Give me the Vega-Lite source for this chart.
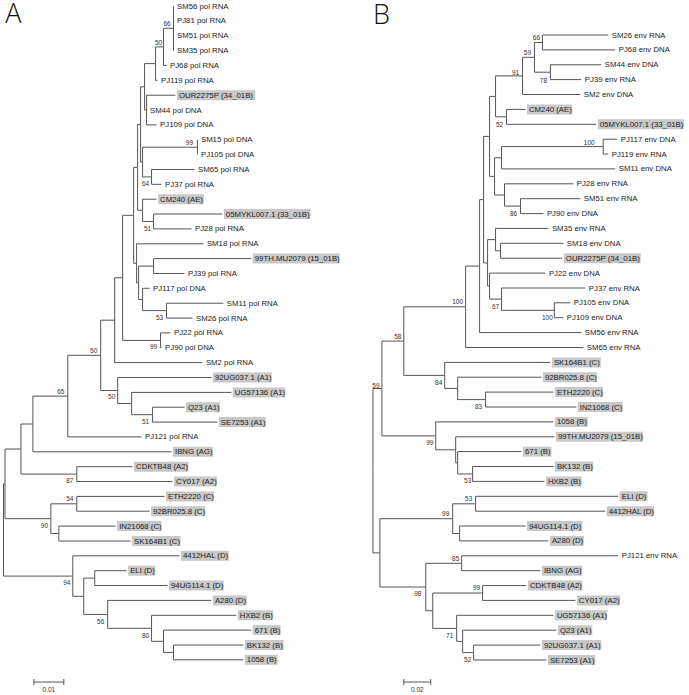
{
"$schema": "https://vega.github.io/schema/vega-lite/v6.json",
"width": 689, "height": 695,
"autosize": {"type": "fit", "contains": "padding"},
"padding": 0,
"background": "white",
"config": {"view": {"stroke": null}},
"datasets": {
"edges": [
{"px":174,"py":28.3,"cx":174,"cy":6.0},{"px":174,"py":28.3,"cx":174,"cy":20.9},{"px":174,"py":28.3,"cx":174,"cy":35.7},{"px":174,"py":28.3,"cx":174,"cy":50.6},
{"px":164,"py":46.9,"cx":174,"cy":28.3},{"px":164,"py":46.9,"cx":167,"cy":65.4},
{"px":156,"py":63.6,"cx":164,"cy":46.9},{"px":156,"py":63.6,"cx":158,"cy":80.3},
{"px":147,"py":110,"cx":176,"cy":95.2},{"px":147,"py":110,"cx":147,"cy":110},{"px":147,"py":110,"cx":157,"cy":124.9},
{"px":145,"py":86.8,"cx":156,"cy":63.6},{"px":145,"py":86.8,"cx":147,"cy":110},
{"px":198,"py":147.2,"cx":198,"cy":139.7},{"px":198,"py":147.2,"cx":198,"cy":154.6},
{"px":152,"py":176.9,"cx":195,"cy":169.5},{"px":152,"py":176.9,"cx":162,"cy":184.3},
{"px":143,"py":162,"cx":198,"cy":147.2},{"px":143,"py":162,"cx":152,"cy":176.9},
{"px":154,"py":221.5,"cx":223,"cy":214},{"px":154,"py":221.5,"cx":192,"cy":228.9},
{"px":143,"py":210.3,"cx":157,"cy":199.2},{"px":143,"py":210.3,"cx":154,"cy":221.5},
{"px":141,"py":124.4,"cx":145,"cy":86.8},{"px":141,"py":124.4,"cx":143,"cy":162},
{"px":138,"py":167.4,"cx":141,"cy":124.4},{"px":138,"py":167.4,"cx":143,"cy":210.3},
{"px":154,"py":266.1,"cx":252,"cy":258.6},{"px":154,"py":266.1,"cx":185,"cy":273.5},
{"px":167,"py":310.6,"cx":224,"cy":303.2},{"px":167,"py":310.6,"cx":193,"cy":318.1},
{"px":143,"py":299.5,"cx":150,"cy":288.3},{"px":143,"py":299.5,"cx":167,"cy":310.6},
{"px":139,"py":282.8,"cx":154,"cy":266.1},{"px":139,"py":282.8,"cx":143,"cy":299.5},
{"px":137,"py":263.3,"cx":204,"cy":243.8},{"px":137,"py":263.3,"cx":139,"cy":282.8},
{"px":134,"py":215.3,"cx":138,"cy":167.4},{"px":134,"py":215.3,"cx":137,"cy":263.3},
{"px":161,"py":340.4,"cx":171,"cy":332.9},{"px":161,"py":340.4,"cx":162,"cy":347.8},
{"px":123,"py":277.8,"cx":134,"cy":215.3},{"px":123,"py":277.8,"cx":161,"cy":340.4},
{"px":115,"py":320.2,"cx":123,"cy":277.8},{"px":115,"py":320.2,"cx":203,"cy":362.6},
{"px":153,"py":414.7,"cx":185,"cy":407.2},{"px":153,"py":414.7,"cx":218,"cy":422.1},
{"px":132,"py":403.5,"cx":232,"cy":392.4},{"px":132,"py":403.5,"cx":153,"cy":414.7},
{"px":118,"py":390.5,"cx":212,"cy":377.5},{"px":118,"py":390.5,"cx":132,"cy":403.5},
{"px":101,"py":355.3,"cx":115,"cy":320.2},{"px":101,"py":355.3,"cx":118,"cy":390.5},
{"px":68,"py":396.1,"cx":101,"cy":355.3},{"px":68,"py":396.1,"cx":142,"cy":436.9},
{"px":33,"py":424,"cx":68,"cy":396.1},{"px":33,"py":424,"cx":172,"cy":451.8},
{"px":77,"py":474.1,"cx":133,"cy":466.7},{"px":77,"py":474.1,"cx":173,"cy":481.5},
{"px":21,"py":449,"cx":33,"cy":424},{"px":21,"py":449,"cx":77,"cy":474.1},
{"px":77,"py":503.8,"cx":165,"cy":496.4},{"px":77,"py":503.8,"cx":150,"cy":511.2},
{"px":59,"py":533.5,"cx":116,"cy":526.1},{"px":59,"py":533.5,"cx":131,"cy":541},
{"px":51,"py":518.7,"cx":77,"cy":503.8},{"px":51,"py":518.7,"cx":59,"cy":533.5},
{"px":5,"py":483.9,"cx":21,"cy":449},{"px":5,"py":483.9,"cx":51,"cy":518.7},
{"px":95,"py":578.1,"cx":127,"cy":570.7},{"px":95,"py":578.1,"cx":168,"cy":585.5},
{"px":174,"py":652.4,"cx":244,"cy":645},{"px":174,"py":652.4,"cx":244,"cy":659.8},
{"px":164,"py":641.3,"cx":252,"cy":630.1},{"px":164,"py":641.3,"cx":174,"cy":652.4},
{"px":152,"py":628.3,"cx":237,"cy":615.3},{"px":152,"py":628.3,"cx":164,"cy":641.3},
{"px":108,"py":614.4,"cx":212,"cy":600.4},{"px":108,"py":614.4,"cx":152,"cy":628.3},
{"px":84,"py":596.3,"cx":95,"cy":578.1},{"px":84,"py":596.3,"cx":108,"cy":614.4},
{"px":73,"py":576.1,"cx":180,"cy":555.8},{"px":73,"py":576.1,"cx":84,"cy":596.3},
{"px":3.5,"py":530,"cx":5,"cy":483.9},{"px":3.5,"py":530,"cx":73,"cy":576.1},
{"px":544,"py":42.5,"cx":610,"cy":35},{"px":544,"py":42.5,"cx":617,"cy":49.9},
{"px":552,"py":72.2,"cx":603,"cy":64.8},{"px":552,"py":72.2,"cx":583,"cy":79.6},
{"px":536,"py":57.3,"cx":544,"cy":42.5},{"px":536,"py":57.3,"cx":552,"cy":72.2},
{"px":524,"py":75.9,"cx":536,"cy":57.3},{"px":524,"py":75.9,"cx":582,"cy":94.5},
{"px":508,"py":116.8,"cx":527,"cy":109.4},{"px":508,"py":116.8,"cx":598,"cy":124.3},
{"px":497,"py":96.4,"cx":524,"cy":75.9},{"px":497,"py":96.4,"cx":508,"cy":116.8},
{"px":605,"py":146.6,"cx":619,"cy":139.2},{"px":605,"py":146.6,"cx":610,"cy":154},
{"px":503,"py":157.8,"cx":605,"cy":146.6},{"px":503,"py":157.8,"cx":617,"cy":168.9},
{"px":522,"py":206.1,"cx":582,"cy":198.7},{"px":522,"py":206.1,"cx":545,"cy":213.6},
{"px":506,"py":195,"cx":575,"cy":183.8},{"px":506,"py":195,"cx":522,"cy":206.1},
{"px":496,"py":176.4,"cx":503,"cy":157.8},{"px":496,"py":176.4,"cx":506,"cy":195},
{"px":491,"py":136.4,"cx":497,"cy":96.4},{"px":491,"py":136.4,"cx":496,"cy":176.4},
{"px":502,"py":250.8,"cx":565,"cy":243.3},{"px":502,"py":250.8,"cx":564,"cy":258.2},
{"px":497,"py":239.6,"cx":550,"cy":228.4},{"px":497,"py":239.6,"cx":502,"cy":250.8},
{"px":556,"py":310.3,"cx":572,"cy":302.8},{"px":556,"py":310.3,"cx":565,"cy":317.7},
{"px":503,"py":299.1,"cx":587,"cy":288},{"px":503,"py":299.1,"cx":556,"cy":310.3},
{"px":491,"py":286.1,"cx":547,"cy":273.1},{"px":491,"py":286.1,"cx":503,"cy":299.1},
{"px":489,"py":262.9,"cx":497,"cy":239.6},{"px":489,"py":262.9,"cx":491,"cy":286.1},
{"px":485,"py":199.6,"cx":491,"cy":136.4},{"px":485,"py":199.6,"cx":489,"cy":262.9},
{"px":481,"py":266.1,"cx":485,"cy":199.6},{"px":481,"py":266.1,"cx":583,"cy":332.6},
{"px":467,"py":306.8,"cx":481,"cy":266.1},{"px":467,"py":306.8,"cx":585,"cy":347.5},
{"px":487,"py":399.6,"cx":555,"cy":392.1},{"px":487,"py":399.6,"cx":578,"cy":407},
{"px":459,"py":388.4,"cx":543,"cy":377.2},{"px":459,"py":388.4,"cx":487,"cy":399.6},
{"px":446,"py":375.4,"cx":552,"cy":362.4},{"px":446,"py":375.4,"cx":459,"cy":388.4},
{"px":405,"py":341.1,"cx":467,"cy":306.8},{"px":405,"py":341.1,"cx":446,"cy":375.4},
{"px":474,"py":474,"cx":555,"cy":466.5},{"px":474,"py":474,"cx":546,"cy":481.4},
{"px":459,"py":462.8,"cx":523,"cy":451.6},{"px":459,"py":462.8,"cx":474,"cy":474},
{"px":457,"py":449.8,"cx":556,"cy":436.8},{"px":457,"py":449.8,"cx":459,"cy":462.8},
{"px":437,"py":435.9,"cx":555,"cy":421.9},{"px":437,"py":435.9,"cx":457,"cy":449.8},
{"px":383,"py":388.5,"cx":405,"cy":341.1},{"px":383,"py":388.5,"cx":437,"cy":435.9},
{"px":477,"py":503.8,"cx":620,"cy":496.3},{"px":477,"py":503.8,"cx":607,"cy":511.2},
{"px":461,"py":533.5,"cx":527,"cy":526},{"px":461,"py":533.5,"cx":550,"cy":540.9},
{"px":454,"py":518.7,"cx":477,"cy":503.8},{"px":454,"py":518.7,"cx":461,"cy":533.5},
{"px":463,"py":563.3,"cx":620,"cy":555.8},{"px":463,"py":563.3,"cx":542,"cy":570.7},
{"px":484,"py":593,"cx":528,"cy":585.6},{"px":484,"py":593,"cx":577,"cy":600.4},
{"px":475,"py":652.6,"cx":542,"cy":645.1},{"px":475,"py":652.6,"cx":548,"cy":660},
{"px":464,"py":641.4,"cx":558,"cy":630.2},{"px":464,"py":641.4,"cx":475,"cy":652.6},
{"px":458,"py":628.4,"cx":555,"cy":615.3},{"px":458,"py":628.4,"cx":464,"cy":641.4},
{"px":434,"py":610.7,"cx":484,"cy":593},{"px":434,"py":610.7,"cx":458,"cy":628.4},
{"px":427,"py":587,"cx":463,"cy":563.3},{"px":427,"py":587,"cx":434,"cy":610.7},
{"px":381,"py":552.9,"cx":454,"cy":518.7},{"px":381,"py":552.9,"cx":427,"cy":587},
{"px":374,"py":470.7,"cx":383,"cy":388.5},{"px":374,"py":470.7,"cx":381,"cy":552.9}
],
"leaves": [
{"x":174,"y":6.0,"t":"SM56 pol RNA","g":0},
{"x":174,"y":20.9,"t":"PJ81 pol RNA","g":0},
{"x":174,"y":35.7,"t":"SM51 pol RNA","g":0},
{"x":174,"y":50.6,"t":"SM35 pol RNA","g":0},
{"x":167,"y":65.4,"t":"PJ68 pol RNA","g":0},
{"x":158,"y":80.3,"t":"PJ119 pol RNA","g":0},
{"x":176,"y":95.2,"t":"OUR2275P (34_01B)","g":1,"bx2":256},
{"x":147,"y":110.0,"t":"SM44 pol DNA","g":0},
{"x":157,"y":124.9,"t":"PJ109 pol DNA","g":0},
{"x":198,"y":139.7,"t":"SM15 pol DNA","g":0},
{"x":198,"y":154.6,"t":"PJ105 pol DNA","g":0},
{"x":195,"y":169.5,"t":"SM65 pol RNA","g":0},
{"x":162,"y":184.3,"t":"PJ37 pol RNA","g":0},
{"x":157,"y":199.2,"t":"CM240 (AE)","g":1,"bx2":204.5},
{"x":223,"y":214.0,"t":"05MYKL007.1 (33_01B)","g":1,"bx2":311.5},
{"x":192,"y":228.9,"t":"PJ28 pol RNA","g":0},
{"x":204,"y":243.8,"t":"SM18 pol RNA","g":0},
{"x":252,"y":258.6,"t":"99TH.MU2079 (15_01B)","g":1,"bx2":340.5},
{"x":185,"y":273.5,"t":"PJ39 pol RNA","g":0},
{"x":150,"y":288.3,"t":"PJ117 pol DNA","g":0},
{"x":224,"y":303.2,"t":"SM11 pol RNA","g":0},
{"x":193,"y":318.1,"t":"SM26 pol RNA","g":0},
{"x":171,"y":332.9,"t":"PJ22 pol RNA","g":0},
{"x":162,"y":347.8,"t":"PJ90 pol DNA","g":0},
{"x":203,"y":362.6,"t":"SM2 pol RNA","g":0},
{"x":212,"y":377.5,"t":"92UG037.1 (A1)","g":1,"bx2":272.5},
{"x":232,"y":392.4,"t":"UG57136 (A1)","g":1,"bx2":286},
{"x":185,"y":407.2,"t":"Q23 (A1)","g":1,"bx2":220.5},
{"x":218,"y":422.1,"t":"SE7253 (A1)","g":1,"bx2":266.5},
{"x":142,"y":436.9,"t":"PJ121 pol RNA","g":0},
{"x":172,"y":451.8,"t":"IBNG (AG)","g":1,"bx2":213.5},
{"x":133,"y":466.7,"t":"CDKTB48 (A2)","g":1,"bx2":189},
{"x":173,"y":481.5,"t":"CY017 (A2)","g":1,"bx2":217.5},
{"x":165,"y":496.4,"t":"ETH2220 (C)","g":1,"bx2":214.5},
{"x":150,"y":511.2,"t":"92BR025.8 (C)","g":1,"bx2":206},
{"x":116,"y":526.1,"t":"IN21068 (C)","g":1,"bx2":162},
{"x":131,"y":541.0,"t":"SK164B1 (C)","g":1,"bx2":181},
{"x":180,"y":555.8,"t":"4412HAL (D)","g":1,"bx2":229.5},
{"x":127,"y":570.7,"t":"ELI (D)","g":1,"bx2":155.5},
{"x":168,"y":585.5,"t":"94UG114.1 (D)","g":1,"bx2":224.5},
{"x":212,"y":600.4,"t":"A280 (D)","g":1,"bx2":247.5},
{"x":237,"y":615.3,"t":"HXB2 (B)","g":1,"bx2":274},
{"x":252,"y":630.1,"t":"671 (B)","g":1,"bx2":281.5},
{"x":244,"y":645.0,"t":"BK132 (B)","g":1,"bx2":284.5},
{"x":244,"y":659.8,"t":"1058 (B)","g":1,"bx2":278.5},
{"x":610,"y":35.0,"t":"SM26 env RNA","g":0},
{"x":617,"y":49.9,"t":"PJ68 env DNA","g":0},
{"x":603,"y":64.8,"t":"SM44 env DNA","g":0},
{"x":583,"y":79.6,"t":"PJ39 env RNA","g":0},
{"x":582,"y":94.5,"t":"SM2 env DNA","g":0},
{"x":527,"y":109.4,"t":"CM240 (AE)","g":1,"bx2":574},
{"x":598,"y":124.3,"t":"05MYKL007.1 (33_01B)","g":1,"bx2":686},
{"x":619,"y":139.2,"t":"PJ117 env DNA","g":0},
{"x":610,"y":154.0,"t":"PJ119 env RNA","g":0},
{"x":617,"y":168.9,"t":"SM11 env DNA","g":0},
{"x":575,"y":183.8,"t":"PJ28 env RNA","g":0},
{"x":582,"y":198.7,"t":"SM51 env RNA","g":0},
{"x":545,"y":213.6,"t":"PJ90 env DNA","g":0},
{"x":550,"y":228.4,"t":"SM35 env RNA","g":0},
{"x":565,"y":243.3,"t":"SM18 env DNA","g":0},
{"x":564,"y":258.2,"t":"OUR2275P (34_01B)","g":1,"bx2":642.5},
{"x":547,"y":273.1,"t":"PJ22 env DNA","g":0},
{"x":587,"y":288.0,"t":"PJ37 env RNA","g":0},
{"x":572,"y":302.8,"t":"PJ105 env DNA","g":0},
{"x":565,"y":317.7,"t":"PJ109 env DNA","g":0},
{"x":583,"y":332.6,"t":"SM56 env RNA","g":0},
{"x":585,"y":347.5,"t":"SM65 env RNA","g":0},
{"x":552,"y":362.4,"t":"SK164B1 (C)","g":1,"bx2":602.5},
{"x":543,"y":377.2,"t":"92BR025.8 (C)","g":1,"bx2":598.5},
{"x":555,"y":392.1,"t":"ETH2220 (C)","g":1,"bx2":605},
{"x":578,"y":407.0,"t":"IN21068 (C)","g":1,"bx2":624.5},
{"x":555,"y":421.9,"t":"1058 (B)","g":1,"bx2":589.5},
{"x":556,"y":436.8,"t":"99TH.MU2079 (15_01B)","g":1,"bx2":645},
{"x":523,"y":451.6,"t":"671 (B)","g":1,"bx2":553},
{"x":555,"y":466.5,"t":"BK132 (B)","g":1,"bx2":595},
{"x":546,"y":481.4,"t":"HXB2 (B)","g":1,"bx2":583.5},
{"x":620,"y":496.3,"t":"ELI (D)","g":1,"bx2":649.5},
{"x":607,"y":511.2,"t":"4412HAL (D)","g":1,"bx2":656},
{"x":527,"y":526.0,"t":"94UG114.1 (D)","g":1,"bx2":584},
{"x":550,"y":540.9,"t":"A280 (D)","g":1,"bx2":585.5},
{"x":620,"y":555.8,"t":"PJ121 env RNA","g":0},
{"x":542,"y":570.7,"t":"IBNG (AG)","g":1,"bx2":584},
{"x":528,"y":585.6,"t":"CDKTB48 (A2)","g":1,"bx2":584},
{"x":577,"y":600.4,"t":"CY017 (A2)","g":1,"bx2":622},
{"x":555,"y":615.3,"t":"UG57136 (A1)","g":1,"bx2":609},
{"x":558,"y":630.2,"t":"Q23 (A1)","g":1,"bx2":594},
{"x":542,"y":645.1,"t":"92UG037.1 (A1)","g":1,"bx2":603},
{"x":548,"y":660.0,"t":"SE7253 (A1)","g":1,"bx2":597}
],
"boot": [
{"x":167.5,"y":24,"v":"66"},{"x":159,"y":43,"v":"50"},{"x":190,"y":143,"v":"99"},{"x":146,"y":184,"v":"64"},{"x":148,"y":229,"v":"51"},{"x":160,"y":318,"v":"53"},{"x":154,"y":347,"v":"99"},{"x":94,"y":351,"v":"50"},{"x":112,"y":397,"v":"50"},{"x":146,"y":422,"v":"51"},{"x":61,"y":392,"v":"65"},{"x":70,"y":481,"v":"87"},{"x":70,"y":499,"v":"54"},{"x":44.5,"y":526,"v":"90"},{"x":67,"y":583,"v":"94"},{"x":101,"y":622,"v":"56"},{"x":146,"y":636,"v":"80"},
{"x":538,"y":38,"v":"66"},{"x":529,"y":53,"v":"59"},{"x":517,"y":73,"v":"91"},{"x":545,"y":81,"v":"78"},{"x":501,"y":125,"v":"52"},{"x":591,"y":143,"v":"100"},{"x":515,"y":214,"v":"86"},{"x":497,"y":307,"v":"67"},{"x":549,"y":318,"v":"100"},{"x":459,"y":302,"v":"100"},{"x":399,"y":337,"v":"58"},{"x":377,"y":386,"v":"59"},{"x":440,"y":383,"v":"84"},{"x":480,"y":407,"v":"83"},{"x":431,"y":443,"v":"99"},{"x":469,"y":481,"v":"53"},{"x":470,"y":499,"v":"53"},{"x":447,"y":514,"v":"99"},{"x":457,"y":559,"v":"85"},{"x":478,"y":588,"v":"99"},{"x":419,"y":594,"v":"98"},{"x":451,"y":636,"v":"71"},{"x":469,"y":660,"v":"52"}
],
"scalebar": [
{"x1":34,"x2":64,"y":682,"lx":49,"t":"0.01"},
{"x1":405,"x2":432,"y":682,"lx":418.5,"t":"0.02"}
],
"panels": [
{"x":13.5,"y":2,"t":"A"},
{"x":382.5,"y":3,"t":"B"}
]
},
"layer": [
{"data":{"name":"leaves"},"transform":[{"filter":"datum.g == 1"}],
 "mark":{"type":"rule","strokeWidth":10,"color":"#c8c8c8","strokeCap":"butt","xOffset":1.5},
 "encoding":{
  "x":{"field":"x","type":"quantitative","scale":{"domain":[0,689],"nice":false,"zero":false},"axis":null},
  "x2":{"field":"bx2"},
  "y":{"field":"y","type":"quantitative","scale":{"domain":[0,695],"nice":false,"zero":false,"reverse":true},"axis":null}}},
{"data":{"name":"edges"},
 "mark":{"type":"rule","color":"#555555","strokeWidth":1},
 "encoding":{
  "x":{"field":"px","type":"quantitative","scale":{"domain":[0,689],"nice":false,"zero":false},"axis":null},
  "y":{"field":"py","type":"quantitative","scale":{"domain":[0,695],"nice":false,"zero":false,"reverse":true},"axis":null},
  "y2":{"field":"cy"}}},
{"data":{"name":"edges"},
 "mark":{"type":"rule","color":"#555555","strokeWidth":1},
 "encoding":{
  "x":{"field":"px","type":"quantitative","scale":{"domain":[0,689],"nice":false,"zero":false},"axis":null},
  "x2":{"field":"cx"},
  "y":{"field":"cy","type":"quantitative","scale":{"domain":[0,695],"nice":false,"zero":false,"reverse":true},"axis":null}}},
{"data":{"name":"leaves"},
 "mark":{"type":"text","align":"left","baseline":"middle","dx":3.5,"dy":0.5,"fontSize":7.8,"font":"Liberation Sans","color":"#222222"},
 "encoding":{
  "x":{"field":"x","type":"quantitative","scale":{"domain":[0,689],"nice":false,"zero":false},"axis":null},
  "y":{"field":"y","type":"quantitative","scale":{"domain":[0,695],"nice":false,"zero":false,"reverse":true},"axis":null},
  "text":{"field":"t"}}},
{"data":{"name":"boot"},
 "mark":{"type":"text","align":"center","baseline":"middle","fontSize":6.5,"font":"Liberation Sans","color":"#333333"},
 "encoding":{
  "x":{"field":"x","type":"quantitative","scale":{"domain":[0,689],"nice":false,"zero":false},"axis":null},
  "y":{"field":"y","type":"quantitative","scale":{"domain":[0,695],"nice":false,"zero":false,"reverse":true},"axis":null},
  "text":{"field":"v"}}},
{"data":{"name":"scalebar"},
 "mark":{"type":"rule","color":"#555555","strokeWidth":1},
 "encoding":{
  "x":{"field":"x1","type":"quantitative","scale":{"domain":[0,689],"nice":false,"zero":false},"axis":null},
  "x2":{"field":"x2"},
  "y":{"field":"y","type":"quantitative","scale":{"domain":[0,695],"nice":false,"zero":false,"reverse":true},"axis":null}}},
{"data":{"name":"scalebar"},
 "mark":{"type":"tick","orient":"vertical","size":6,"thickness":1,"opacity":1,"color":"#555555"},
 "encoding":{
  "x":{"field":"x1","type":"quantitative","scale":{"domain":[0,689],"nice":false,"zero":false},"axis":null},
  "y":{"field":"y","type":"quantitative","scale":{"domain":[0,695],"nice":false,"zero":false,"reverse":true},"axis":null}}},
{"data":{"name":"scalebar"},
 "mark":{"type":"tick","orient":"vertical","size":6,"thickness":1,"opacity":1,"color":"#555555"},
 "encoding":{
  "x":{"field":"x2","type":"quantitative","scale":{"domain":[0,689],"nice":false,"zero":false},"axis":null},
  "y":{"field":"y","type":"quantitative","scale":{"domain":[0,695],"nice":false,"zero":false,"reverse":true},"axis":null}}},
{"data":{"name":"scalebar"},
 "mark":{"type":"text","align":"center","baseline":"middle","dy":8,"fontSize":6.5,"font":"Liberation Sans","color":"#333333"},
 "encoding":{
  "x":{"field":"lx","type":"quantitative","scale":{"domain":[0,689],"nice":false,"zero":false},"axis":null},
  "y":{"field":"y","type":"quantitative","scale":{"domain":[0,695],"nice":false,"zero":false,"reverse":true},"axis":null},
  "text":{"field":"t"}}},
{"data":{"name":"panels"},
 "mark":{"type":"text","align":"center","baseline":"top","fontSize":27,"font":"Open Sans","fontWeight":300,"color":"#111111"},
 "encoding":{
  "x":{"field":"x","type":"quantitative","scale":{"domain":[0,689],"nice":false,"zero":false},"axis":null},
  "y":{"field":"y","type":"quantitative","scale":{"domain":[0,695],"nice":false,"zero":false,"reverse":true},"axis":null},
  "text":{"field":"t"}}}
]
}
